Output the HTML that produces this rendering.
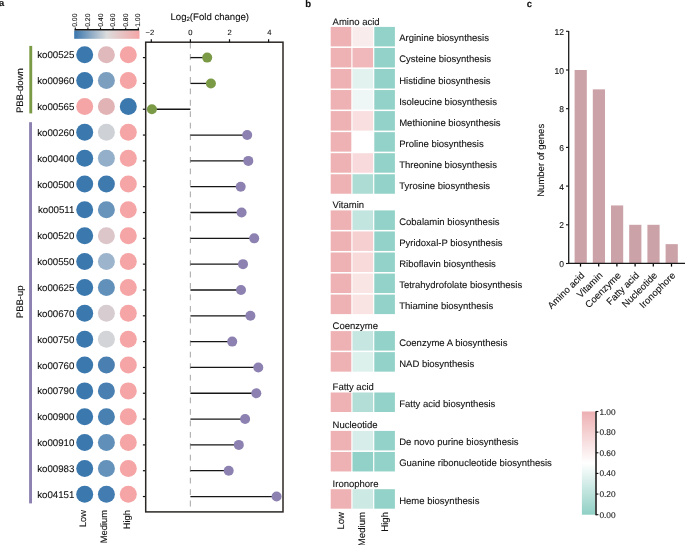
<!DOCTYPE html>
<html><head><meta charset="utf-8"><style>
html,body{margin:0;padding:0;background:#fff;}
body{width:685px;height:545px;overflow:hidden;}
svg{display:block;font-family:"Liberation Sans", sans-serif;will-change:transform;text-rendering:geometricPrecision;}
text{stroke:#111;stroke-width:0.1px;}
</style></head><body>
<svg width="685" height="545" viewBox="0 0 685 545">
<rect width="685" height="545" fill="#fff"/>
<text x="-0.9" y="6.0" font-size="9.4" font-weight="bold" fill="#111">a</text>
<text x="305.3" y="6.9" font-size="9.6" font-weight="bold" fill="#111">b</text>
<text x="526.7" y="7.0" font-size="9.6" font-weight="bold" fill="#111">c</text>
<defs><linearGradient id="gA" x1="0" x2="1" y1="0" y2="0"><stop offset="0" stop-color="#3a76ad"/><stop offset="0.5" stop-color="#dcdcdc"/><stop offset="1" stop-color="#f5a5a6"/></linearGradient><linearGradient id="gB" x1="0" x2="0" y1="0" y2="1"><stop offset="0" stop-color="#edb0b2"/><stop offset="0.5" stop-color="#ffffff"/><stop offset="1" stop-color="#8fcfc4"/></linearGradient></defs>
<rect x="74.2" y="30.4" width="65.3" height="8.4" fill="url(#gA)"/>
<line x1="74.6" y1="29.8" x2="139.1" y2="29.8" stroke="#111" stroke-width="1.4"/>
<line x1="75.30" y1="27.5" x2="75.30" y2="29.8" stroke="#111" stroke-width="1.1"/>
<text transform="translate(77.40,26.8) rotate(-90)" font-size="6.8" fill="#111">0.00</text>
<line x1="87.90" y1="27.5" x2="87.90" y2="29.8" stroke="#111" stroke-width="1.1"/>
<text transform="translate(90.00,26.8) rotate(-90)" font-size="6.8" fill="#111">0.20</text>
<line x1="100.50" y1="27.5" x2="100.50" y2="29.8" stroke="#111" stroke-width="1.1"/>
<text transform="translate(102.60,26.8) rotate(-90)" font-size="6.8" fill="#111">0.40</text>
<line x1="113.10" y1="27.5" x2="113.10" y2="29.8" stroke="#111" stroke-width="1.1"/>
<text transform="translate(115.20,26.8) rotate(-90)" font-size="6.8" fill="#111">0.60</text>
<line x1="125.70" y1="27.5" x2="125.70" y2="29.8" stroke="#111" stroke-width="1.1"/>
<text transform="translate(127.80,26.8) rotate(-90)" font-size="6.8" fill="#111">0.80</text>
<line x1="138.30" y1="27.5" x2="138.30" y2="29.8" stroke="#111" stroke-width="1.1"/>
<text transform="translate(140.40,26.8) rotate(-90)" font-size="6.8" fill="#111">1.00</text>
<rect x="29.3" y="45.9" width="2.9" height="67.5" fill="#7b9a46"/>
<rect x="29.1" y="122.2" width="2.9" height="381.2" fill="#8c81b0"/>
<text transform="translate(23.2,113.1) rotate(-90)" font-size="9.5" fill="#111">PBB-down</text>
<text transform="translate(23.2,318.2) rotate(-90)" font-size="9.5" fill="#111">PBB-up</text>
<text x="74.4" y="58.30" font-size="9.7" text-anchor="end" fill="#111">ko00525</text>
<circle cx="84.7" cy="54.70" r="8.5" fill="#3b78ae"/>
<circle cx="106.4" cy="54.70" r="8.5" fill="#dfb9bb"/>
<circle cx="128.3" cy="54.70" r="8.5" fill="#f5a5a5"/>
<text x="74.4" y="84.16" font-size="9.7" text-anchor="end" fill="#111">ko00960</text>
<circle cx="84.7" cy="80.56" r="8.5" fill="#3b78ae"/>
<circle cx="106.4" cy="80.56" r="8.5" fill="#7c9fc0"/>
<circle cx="128.3" cy="80.56" r="8.5" fill="#f5a5a5"/>
<text x="74.4" y="110.02" font-size="9.7" text-anchor="end" fill="#111">ko00565</text>
<circle cx="84.7" cy="106.42" r="8.5" fill="#f5a5a5"/>
<circle cx="106.4" cy="106.42" r="8.5" fill="#e2b3b5"/>
<circle cx="128.3" cy="106.42" r="8.5" fill="#3b78ae"/>
<text x="74.4" y="135.88" font-size="9.7" text-anchor="end" fill="#111">ko00260</text>
<circle cx="84.7" cy="132.28" r="8.5" fill="#3b78ae"/>
<circle cx="106.4" cy="132.28" r="8.5" fill="#ced2d6"/>
<circle cx="128.3" cy="132.28" r="8.5" fill="#f5a5a5"/>
<text x="74.4" y="161.74" font-size="9.7" text-anchor="end" fill="#111">ko00400</text>
<circle cx="84.7" cy="158.14" r="8.5" fill="#3b78ae"/>
<circle cx="106.4" cy="158.14" r="8.5" fill="#93afc9"/>
<circle cx="128.3" cy="158.14" r="8.5" fill="#f5a5a5"/>
<text x="74.4" y="187.60" font-size="9.7" text-anchor="end" fill="#111">ko00500</text>
<circle cx="84.7" cy="184.00" r="8.5" fill="#3b78ae"/>
<circle cx="106.4" cy="184.00" r="8.5" fill="#3f7aaf"/>
<circle cx="128.3" cy="184.00" r="8.5" fill="#f5a5a5"/>
<text x="74.4" y="213.46" font-size="9.7" text-anchor="end" fill="#111">ko00511</text>
<circle cx="84.7" cy="209.86" r="8.5" fill="#3b78ae"/>
<circle cx="106.4" cy="209.86" r="8.5" fill="#6894bb"/>
<circle cx="128.3" cy="209.86" r="8.5" fill="#f5a5a5"/>
<text x="74.4" y="239.32" font-size="9.7" text-anchor="end" fill="#111">ko00520</text>
<circle cx="84.7" cy="235.72" r="8.5" fill="#3b78ae"/>
<circle cx="106.4" cy="235.72" r="8.5" fill="#dcc6c9"/>
<circle cx="128.3" cy="235.72" r="8.5" fill="#f5a5a5"/>
<text x="74.4" y="265.18" font-size="9.7" text-anchor="end" fill="#111">ko00550</text>
<circle cx="84.7" cy="261.58" r="8.5" fill="#3b78ae"/>
<circle cx="106.4" cy="261.58" r="8.5" fill="#9db5cc"/>
<circle cx="128.3" cy="261.58" r="8.5" fill="#f5a5a5"/>
<text x="74.4" y="291.04" font-size="9.7" text-anchor="end" fill="#111">ko00625</text>
<circle cx="84.7" cy="287.44" r="8.5" fill="#3b78ae"/>
<circle cx="106.4" cy="287.44" r="8.5" fill="#6191ba"/>
<circle cx="128.3" cy="287.44" r="8.5" fill="#f5a5a5"/>
<text x="74.4" y="316.90" font-size="9.7" text-anchor="end" fill="#111">ko00670</text>
<circle cx="84.7" cy="313.30" r="8.5" fill="#3b78ae"/>
<circle cx="106.4" cy="313.30" r="8.5" fill="#d7cdd0"/>
<circle cx="128.3" cy="313.30" r="8.5" fill="#f5a5a5"/>
<text x="74.4" y="342.76" font-size="9.7" text-anchor="end" fill="#111">ko00750</text>
<circle cx="84.7" cy="339.16" r="8.5" fill="#3b78ae"/>
<circle cx="106.4" cy="339.16" r="8.5" fill="#d2d4d7"/>
<circle cx="128.3" cy="339.16" r="8.5" fill="#f5a5a5"/>
<text x="74.4" y="368.62" font-size="9.7" text-anchor="end" fill="#111">ko00760</text>
<circle cx="84.7" cy="365.02" r="8.5" fill="#3b78ae"/>
<circle cx="106.4" cy="365.02" r="8.5" fill="#4a7fb1"/>
<circle cx="128.3" cy="365.02" r="8.5" fill="#f5a5a5"/>
<text x="74.4" y="394.48" font-size="9.7" text-anchor="end" fill="#111">ko00790</text>
<circle cx="84.7" cy="390.88" r="8.5" fill="#3b78ae"/>
<circle cx="106.4" cy="390.88" r="8.5" fill="#4a7fb1"/>
<circle cx="128.3" cy="390.88" r="8.5" fill="#f5a5a5"/>
<text x="74.4" y="420.34" font-size="9.7" text-anchor="end" fill="#111">ko00900</text>
<circle cx="84.7" cy="416.74" r="8.5" fill="#3b78ae"/>
<circle cx="106.4" cy="416.74" r="8.5" fill="#4880b1"/>
<circle cx="128.3" cy="416.74" r="8.5" fill="#f5a5a5"/>
<text x="74.4" y="446.20" font-size="9.7" text-anchor="end" fill="#111">ko00910</text>
<circle cx="84.7" cy="442.60" r="8.5" fill="#3b78ae"/>
<circle cx="106.4" cy="442.60" r="8.5" fill="#6090ba"/>
<circle cx="128.3" cy="442.60" r="8.5" fill="#f5a5a5"/>
<text x="74.4" y="472.06" font-size="9.7" text-anchor="end" fill="#111">ko00983</text>
<circle cx="84.7" cy="468.46" r="8.5" fill="#3b78ae"/>
<circle cx="106.4" cy="468.46" r="8.5" fill="#6592bb"/>
<circle cx="128.3" cy="468.46" r="8.5" fill="#f5a5a5"/>
<text x="74.4" y="497.92" font-size="9.7" text-anchor="end" fill="#111">ko04151</text>
<circle cx="84.7" cy="494.32" r="8.5" fill="#3b78ae"/>
<circle cx="106.4" cy="494.32" r="8.5" fill="#437cb0"/>
<circle cx="128.3" cy="494.32" r="8.5" fill="#f5a5a5"/>
<text transform="translate(85.6,510) rotate(-90)" font-size="9.4" text-anchor="end" fill="#111">Low</text>
<text transform="translate(107.4,510) rotate(-90)" font-size="9.4" text-anchor="end" fill="#111">Medium</text>
<text transform="translate(129.6,510) rotate(-90)" font-size="9.4" text-anchor="end" fill="#111">High</text>
<line x1="190.4" y1="42.6" x2="190.4" y2="511" stroke="#b4b4b4" stroke-width="1.2" stroke-dasharray="5.8,5.65"/>
<line x1="142.9" y1="57.60" x2="145.5" y2="57.60" stroke="#111" stroke-width="1.2"/>
<line x1="190.4" y1="57.60" x2="207.20" y2="57.60" stroke="#161616" stroke-width="1.3"/>
<circle cx="207.20" cy="57.60" r="5" fill="#7b9a46"/>
<line x1="142.9" y1="83.42" x2="145.5" y2="83.42" stroke="#111" stroke-width="1.2"/>
<line x1="190.4" y1="83.42" x2="210.90" y2="83.42" stroke="#161616" stroke-width="1.3"/>
<circle cx="210.90" cy="83.42" r="5" fill="#7b9a46"/>
<line x1="142.9" y1="109.24" x2="145.5" y2="109.24" stroke="#111" stroke-width="1.2"/>
<line x1="190.4" y1="109.24" x2="151.90" y2="109.24" stroke="#161616" stroke-width="1.3"/>
<circle cx="151.90" cy="109.24" r="5" fill="#7b9a46"/>
<line x1="142.9" y1="135.06" x2="145.5" y2="135.06" stroke="#111" stroke-width="1.2"/>
<line x1="190.4" y1="135.06" x2="247.20" y2="135.06" stroke="#161616" stroke-width="1.3"/>
<circle cx="247.20" cy="135.06" r="5" fill="#8c81b0"/>
<line x1="142.9" y1="160.88" x2="145.5" y2="160.88" stroke="#111" stroke-width="1.2"/>
<line x1="190.4" y1="160.88" x2="248.30" y2="160.88" stroke="#161616" stroke-width="1.3"/>
<circle cx="248.30" cy="160.88" r="5" fill="#8c81b0"/>
<line x1="142.9" y1="186.70" x2="145.5" y2="186.70" stroke="#111" stroke-width="1.2"/>
<line x1="190.4" y1="186.70" x2="240.70" y2="186.70" stroke="#161616" stroke-width="1.3"/>
<circle cx="240.70" cy="186.70" r="5" fill="#8c81b0"/>
<line x1="142.9" y1="212.52" x2="145.5" y2="212.52" stroke="#111" stroke-width="1.2"/>
<line x1="190.4" y1="212.52" x2="241.60" y2="212.52" stroke="#161616" stroke-width="1.3"/>
<circle cx="241.60" cy="212.52" r="5" fill="#8c81b0"/>
<line x1="142.9" y1="238.34" x2="145.5" y2="238.34" stroke="#111" stroke-width="1.2"/>
<line x1="190.4" y1="238.34" x2="254.20" y2="238.34" stroke="#161616" stroke-width="1.3"/>
<circle cx="254.20" cy="238.34" r="5" fill="#8c81b0"/>
<line x1="142.9" y1="264.16" x2="145.5" y2="264.16" stroke="#111" stroke-width="1.2"/>
<line x1="190.4" y1="264.16" x2="243.00" y2="264.16" stroke="#161616" stroke-width="1.3"/>
<circle cx="243.00" cy="264.16" r="5" fill="#8c81b0"/>
<line x1="142.9" y1="289.98" x2="145.5" y2="289.98" stroke="#111" stroke-width="1.2"/>
<line x1="190.4" y1="289.98" x2="241.00" y2="289.98" stroke="#161616" stroke-width="1.3"/>
<circle cx="241.00" cy="289.98" r="5" fill="#8c81b0"/>
<line x1="142.9" y1="315.80" x2="145.5" y2="315.80" stroke="#111" stroke-width="1.2"/>
<line x1="190.4" y1="315.80" x2="250.40" y2="315.80" stroke="#161616" stroke-width="1.3"/>
<circle cx="250.40" cy="315.80" r="5" fill="#8c81b0"/>
<line x1="142.9" y1="341.62" x2="145.5" y2="341.62" stroke="#111" stroke-width="1.2"/>
<line x1="190.4" y1="341.62" x2="232.20" y2="341.62" stroke="#161616" stroke-width="1.3"/>
<circle cx="232.20" cy="341.62" r="5" fill="#8c81b0"/>
<line x1="142.9" y1="367.44" x2="145.5" y2="367.44" stroke="#111" stroke-width="1.2"/>
<line x1="190.4" y1="367.44" x2="258.30" y2="367.44" stroke="#161616" stroke-width="1.3"/>
<circle cx="258.30" cy="367.44" r="5" fill="#8c81b0"/>
<line x1="142.9" y1="393.26" x2="145.5" y2="393.26" stroke="#111" stroke-width="1.2"/>
<line x1="190.4" y1="393.26" x2="256.30" y2="393.26" stroke="#161616" stroke-width="1.3"/>
<circle cx="256.30" cy="393.26" r="5" fill="#8c81b0"/>
<line x1="142.9" y1="419.08" x2="145.5" y2="419.08" stroke="#111" stroke-width="1.2"/>
<line x1="190.4" y1="419.08" x2="245.10" y2="419.08" stroke="#161616" stroke-width="1.3"/>
<circle cx="245.10" cy="419.08" r="5" fill="#8c81b0"/>
<line x1="142.9" y1="444.90" x2="145.5" y2="444.90" stroke="#111" stroke-width="1.2"/>
<line x1="190.4" y1="444.90" x2="238.80" y2="444.90" stroke="#161616" stroke-width="1.3"/>
<circle cx="238.80" cy="444.90" r="5" fill="#8c81b0"/>
<line x1="142.9" y1="470.72" x2="145.5" y2="470.72" stroke="#111" stroke-width="1.2"/>
<line x1="190.4" y1="470.72" x2="228.70" y2="470.72" stroke="#161616" stroke-width="1.3"/>
<circle cx="228.70" cy="470.72" r="5" fill="#8c81b0"/>
<line x1="142.9" y1="496.54" x2="145.5" y2="496.54" stroke="#111" stroke-width="1.2"/>
<line x1="190.4" y1="496.54" x2="276.60" y2="496.54" stroke="#161616" stroke-width="1.3"/>
<circle cx="276.60" cy="496.54" r="5" fill="#8c81b0"/>
<rect x="145.7" y="42.2" width="137.3" height="469.7" fill="none" stroke="#2b2725" stroke-width="1.5"/>
<line x1="151.30" y1="39.2" x2="151.30" y2="42.2" stroke="#111" stroke-width="1.2"/>
<text x="149.80" y="35.0" font-size="7.6" text-anchor="middle" fill="#111">−2</text>
<line x1="190.40" y1="39.2" x2="190.40" y2="42.2" stroke="#111" stroke-width="1.2"/>
<text x="190.40" y="35.0" font-size="7.6" text-anchor="middle" fill="#111">0</text>
<line x1="229.50" y1="39.2" x2="229.50" y2="42.2" stroke="#111" stroke-width="1.2"/>
<text x="229.50" y="35.0" font-size="7.6" text-anchor="middle" fill="#111">2</text>
<line x1="268.60" y1="39.2" x2="268.60" y2="42.2" stroke="#111" stroke-width="1.2"/>
<text x="269.40" y="35.0" font-size="7.6" text-anchor="middle" fill="#111">4</text>
<text x="170.5" y="20.4" font-size="9.6" fill="#111">Log<tspan font-size="6" dy="0.8">2</tspan><tspan dy="-0.8">(Fold change)</tspan></text>
<text x="332.6" y="25.20" font-size="9.5" fill="#111">Amino acid</text>
<rect x="330.7" y="26.90" width="20.6" height="19.5" fill="#eeb2b4"/>
<rect x="352.5" y="26.90" width="20.6" height="19.5" fill="#f8eced"/>
<rect x="374.3" y="26.90" width="20.6" height="19.5" fill="#93d2c8"/>
<text x="399.2" y="41.40" font-size="9.5" fill="#111">Arginine biosynthesis</text>
<rect x="330.7" y="47.95" width="20.6" height="19.5" fill="#eeb2b4"/>
<rect x="352.5" y="47.95" width="20.6" height="19.5" fill="#f0b8ba"/>
<rect x="374.3" y="47.95" width="20.6" height="19.5" fill="#93d2c8"/>
<text x="399.2" y="62.45" font-size="9.5" fill="#111">Cysteine biosynthesis</text>
<rect x="330.7" y="69.00" width="20.6" height="19.5" fill="#eeb2b4"/>
<rect x="352.5" y="69.00" width="20.6" height="19.5" fill="#e1f2ef"/>
<rect x="374.3" y="69.00" width="20.6" height="19.5" fill="#93d2c8"/>
<text x="399.2" y="83.50" font-size="9.5" fill="#111">Histidine biosynthesis</text>
<rect x="330.7" y="90.05" width="20.6" height="19.5" fill="#eeb2b4"/>
<rect x="352.5" y="90.05" width="20.6" height="19.5" fill="#eef7f6"/>
<rect x="374.3" y="90.05" width="20.6" height="19.5" fill="#93d2c8"/>
<text x="399.2" y="104.55" font-size="9.5" fill="#111">Isoleucine biosynthesis</text>
<rect x="330.7" y="111.10" width="20.6" height="19.5" fill="#eeb2b4"/>
<rect x="352.5" y="111.10" width="20.6" height="19.5" fill="#f9dfe0"/>
<rect x="374.3" y="111.10" width="20.6" height="19.5" fill="#93d2c8"/>
<text x="399.2" y="125.60" font-size="9.5" fill="#111">Methionine biosynthesis</text>
<rect x="330.7" y="132.15" width="20.6" height="19.5" fill="#eeb2b4"/>
<rect x="352.5" y="132.15" width="20.6" height="19.5" fill="#ffffff"/>
<rect x="374.3" y="132.15" width="20.6" height="19.5" fill="#93d2c8"/>
<text x="399.2" y="146.65" font-size="9.5" fill="#111">Proline biosynthesis</text>
<rect x="330.7" y="153.20" width="20.6" height="19.5" fill="#eeb2b4"/>
<rect x="352.5" y="153.20" width="20.6" height="19.5" fill="#f9dadc"/>
<rect x="374.3" y="153.20" width="20.6" height="19.5" fill="#93d2c8"/>
<text x="399.2" y="167.70" font-size="9.5" fill="#111">Threonine biosynthesis</text>
<rect x="330.7" y="174.25" width="20.6" height="19.5" fill="#eeb2b4"/>
<rect x="352.5" y="174.25" width="20.6" height="19.5" fill="#addcd5"/>
<rect x="374.3" y="174.25" width="20.6" height="19.5" fill="#93d2c8"/>
<text x="399.2" y="188.75" font-size="9.5" fill="#111">Tyrosine biosynthesis</text>
<text x="332.6" y="208.10" font-size="9.5" fill="#111">Vitamin</text>
<rect x="330.7" y="210.40" width="20.6" height="19.5" fill="#eeb2b4"/>
<rect x="352.5" y="210.40" width="20.6" height="19.5" fill="#c2e5df"/>
<rect x="374.3" y="210.40" width="20.6" height="19.5" fill="#93d2c8"/>
<text x="399.2" y="224.90" font-size="9.5" fill="#111">Cobalamin biosynthesis</text>
<rect x="330.7" y="231.45" width="20.6" height="19.5" fill="#eeb2b4"/>
<rect x="352.5" y="231.45" width="20.6" height="19.5" fill="#f6cfd1"/>
<rect x="374.3" y="231.45" width="20.6" height="19.5" fill="#93d2c8"/>
<text x="399.2" y="245.95" font-size="9.5" fill="#111">Pyridoxal-P biosynthesis</text>
<rect x="330.7" y="252.50" width="20.6" height="19.5" fill="#eeb2b4"/>
<rect x="352.5" y="252.50" width="20.6" height="19.5" fill="#f8dadb"/>
<rect x="374.3" y="252.50" width="20.6" height="19.5" fill="#93d2c8"/>
<text x="399.2" y="267.00" font-size="9.5" fill="#111">Riboflavin biosynthesis</text>
<rect x="330.7" y="273.55" width="20.6" height="19.5" fill="#eeb2b4"/>
<rect x="352.5" y="273.55" width="20.6" height="19.5" fill="#fae5e5"/>
<rect x="374.3" y="273.55" width="20.6" height="19.5" fill="#93d2c8"/>
<text x="399.2" y="288.05" font-size="9.5" fill="#111">Tetrahydrofolate biosynthesis</text>
<rect x="330.7" y="294.60" width="20.6" height="19.5" fill="#eeb2b4"/>
<rect x="352.5" y="294.60" width="20.6" height="19.5" fill="#fae3e3"/>
<rect x="374.3" y="294.60" width="20.6" height="19.5" fill="#93d2c8"/>
<text x="399.2" y="309.10" font-size="9.5" fill="#111">Thiamine biosynthesis</text>
<text x="332.6" y="328.90" font-size="9.5" fill="#111">Coenzyme</text>
<rect x="330.7" y="331.10" width="20.6" height="19.5" fill="#eeb2b4"/>
<rect x="352.5" y="331.10" width="20.6" height="19.5" fill="#c6e6e1"/>
<rect x="374.3" y="331.10" width="20.6" height="19.5" fill="#93d2c8"/>
<text x="399.2" y="345.60" font-size="9.5" fill="#111">Coenzyme A biosynthesis</text>
<rect x="330.7" y="352.15" width="20.6" height="19.5" fill="#eeb2b4"/>
<rect x="352.5" y="352.15" width="20.6" height="19.5" fill="#dcf0ec"/>
<rect x="374.3" y="352.15" width="20.6" height="19.5" fill="#93d2c8"/>
<text x="399.2" y="366.65" font-size="9.5" fill="#111">NAD biosynthesis</text>
<text x="332.6" y="389.70" font-size="9.5" fill="#111">Fatty acid</text>
<rect x="330.7" y="392.50" width="20.6" height="19.5" fill="#eeb2b4"/>
<rect x="352.5" y="392.50" width="20.6" height="19.5" fill="#b3ded8"/>
<rect x="374.3" y="392.50" width="20.6" height="19.5" fill="#93d2c8"/>
<text x="399.2" y="407.00" font-size="9.5" fill="#111">Fatty acid biosynthesis</text>
<text x="332.6" y="428.20" font-size="9.5" fill="#111">Nucleotide</text>
<rect x="330.7" y="430.90" width="20.6" height="19.5" fill="#eeb2b4"/>
<rect x="352.5" y="430.90" width="20.6" height="19.5" fill="#d6ede9"/>
<rect x="374.3" y="430.90" width="20.6" height="19.5" fill="#93d2c8"/>
<text x="399.2" y="445.40" font-size="9.5" fill="#111">De novo purine biosynthesis</text>
<rect x="330.7" y="451.95" width="20.6" height="19.5" fill="#eeb2b4"/>
<rect x="352.5" y="451.95" width="20.6" height="19.5" fill="#92d1c7"/>
<rect x="374.3" y="451.95" width="20.6" height="19.5" fill="#93d2c8"/>
<text x="399.2" y="466.45" font-size="9.5" fill="#111">Guanine ribonucleotide biosynthesis</text>
<text x="332.6" y="486.70" font-size="9.5" fill="#111">Ironophore</text>
<rect x="330.7" y="489.20" width="20.6" height="19.5" fill="#eeb2b4"/>
<rect x="352.5" y="489.20" width="20.6" height="19.5" fill="#cce9e4"/>
<rect x="374.3" y="489.20" width="20.6" height="19.5" fill="#93d2c8"/>
<text x="399.2" y="503.70" font-size="9.5" fill="#111">Heme biosynthesis</text>
<text transform="translate(343.5,512) rotate(-90)" font-size="9.6" text-anchor="end" fill="#111">Low</text>
<text transform="translate(365.4,512) rotate(-90)" font-size="9.6" text-anchor="end" fill="#111">Medium</text>
<text transform="translate(388.0,512) rotate(-90)" font-size="9.6" text-anchor="end" fill="#111">High</text>
<rect x="581.9" y="411.5" width="13.3" height="103.2" fill="url(#gB)"/>
<line x1="596" y1="411.2" x2="596" y2="515.2" stroke="#111" stroke-width="1.5"/>
<line x1="596" y1="514.70" x2="598.4" y2="514.70" stroke="#111" stroke-width="1.1"/>
<text x="599.4" y="517.70" font-size="8.3" fill="#111">0.00</text>
<line x1="596" y1="494.06" x2="598.4" y2="494.06" stroke="#111" stroke-width="1.1"/>
<text x="599.4" y="497.06" font-size="8.3" fill="#111">0.20</text>
<line x1="596" y1="473.42" x2="598.4" y2="473.42" stroke="#111" stroke-width="1.1"/>
<text x="599.4" y="476.42" font-size="8.3" fill="#111">0.40</text>
<line x1="596" y1="452.78" x2="598.4" y2="452.78" stroke="#111" stroke-width="1.1"/>
<text x="599.4" y="455.78" font-size="8.3" fill="#111">0.60</text>
<line x1="596" y1="432.14" x2="598.4" y2="432.14" stroke="#111" stroke-width="1.1"/>
<text x="599.4" y="435.14" font-size="8.3" fill="#111">0.80</text>
<line x1="596" y1="411.50" x2="598.4" y2="411.50" stroke="#111" stroke-width="1.1"/>
<text x="599.4" y="414.50" font-size="8.3" fill="#111">1.00</text>
<line x1="568.7" y1="31.0" x2="568.7" y2="264.1" stroke="#1a1a1a" stroke-width="1.3"/>
<line x1="566.0" y1="263.50" x2="568.7" y2="263.50" stroke="#111" stroke-width="1.1"/>
<text x="564.0" y="267.10" font-size="8.5" text-anchor="end" fill="#111">0</text>
<line x1="566.0" y1="224.80" x2="568.7" y2="224.80" stroke="#111" stroke-width="1.1"/>
<text x="564.0" y="228.40" font-size="8.5" text-anchor="end" fill="#111">2</text>
<line x1="566.0" y1="186.10" x2="568.7" y2="186.10" stroke="#111" stroke-width="1.1"/>
<text x="564.0" y="189.70" font-size="8.5" text-anchor="end" fill="#111">4</text>
<line x1="566.0" y1="147.40" x2="568.7" y2="147.40" stroke="#111" stroke-width="1.1"/>
<text x="564.0" y="151.00" font-size="8.5" text-anchor="end" fill="#111">6</text>
<line x1="566.0" y1="108.70" x2="568.7" y2="108.70" stroke="#111" stroke-width="1.1"/>
<text x="564.0" y="112.30" font-size="8.5" text-anchor="end" fill="#111">8</text>
<line x1="566.0" y1="70.00" x2="568.7" y2="70.00" stroke="#111" stroke-width="1.1"/>
<text x="564.0" y="73.60" font-size="8.5" text-anchor="end" fill="#111">10</text>
<line x1="566.0" y1="31.30" x2="568.7" y2="31.30" stroke="#111" stroke-width="1.1"/>
<text x="564.0" y="34.90" font-size="8.5" text-anchor="end" fill="#111">12</text>
<rect x="574.60" y="70.00" width="12.2" height="193.50" fill="#cba2a8"/>
<line x1="580.50" y1="263.5" x2="580.50" y2="266.6" stroke="#000" stroke-width="1.25"/>
<text transform="translate(585.10,276.0) rotate(-45)" font-size="9.6" text-anchor="end" fill="#111">Amino acid</text>
<rect x="592.80" y="89.35" width="12.2" height="174.15" fill="#cba2a8"/>
<line x1="598.70" y1="263.5" x2="598.70" y2="266.6" stroke="#000" stroke-width="1.25"/>
<text transform="translate(603.30,276.0) rotate(-45)" font-size="9.6" text-anchor="end" fill="#111">Vitamin</text>
<rect x="611.00" y="205.45" width="12.2" height="58.05" fill="#cba2a8"/>
<line x1="616.90" y1="263.5" x2="616.90" y2="266.6" stroke="#000" stroke-width="1.25"/>
<text transform="translate(621.50,276.0) rotate(-45)" font-size="9.6" text-anchor="end" fill="#111">Coenzyme</text>
<rect x="629.20" y="224.80" width="12.2" height="38.70" fill="#cba2a8"/>
<line x1="635.10" y1="263.5" x2="635.10" y2="266.6" stroke="#000" stroke-width="1.25"/>
<text transform="translate(639.70,276.0) rotate(-45)" font-size="9.6" text-anchor="end" fill="#111">Fatty acid</text>
<rect x="647.40" y="224.80" width="12.2" height="38.70" fill="#cba2a8"/>
<line x1="653.30" y1="263.5" x2="653.30" y2="266.6" stroke="#000" stroke-width="1.25"/>
<text transform="translate(657.90,276.0) rotate(-45)" font-size="9.6" text-anchor="end" fill="#111">Nucleotide</text>
<rect x="665.60" y="244.15" width="12.2" height="19.35" fill="#cba2a8"/>
<line x1="671.50" y1="263.5" x2="671.50" y2="266.6" stroke="#000" stroke-width="1.25"/>
<text transform="translate(676.10,276.0) rotate(-45)" font-size="9.6" text-anchor="end" fill="#111">Ironophore</text>
<line x1="568.1" y1="263.4" x2="685" y2="263.4" stroke="#1a1a1a" stroke-width="1.2"/>
<text transform="translate(544.2,160.3) rotate(-90)" font-size="9.5" text-anchor="middle" fill="#111">Number of genes</text>
</svg>
</body></html>
